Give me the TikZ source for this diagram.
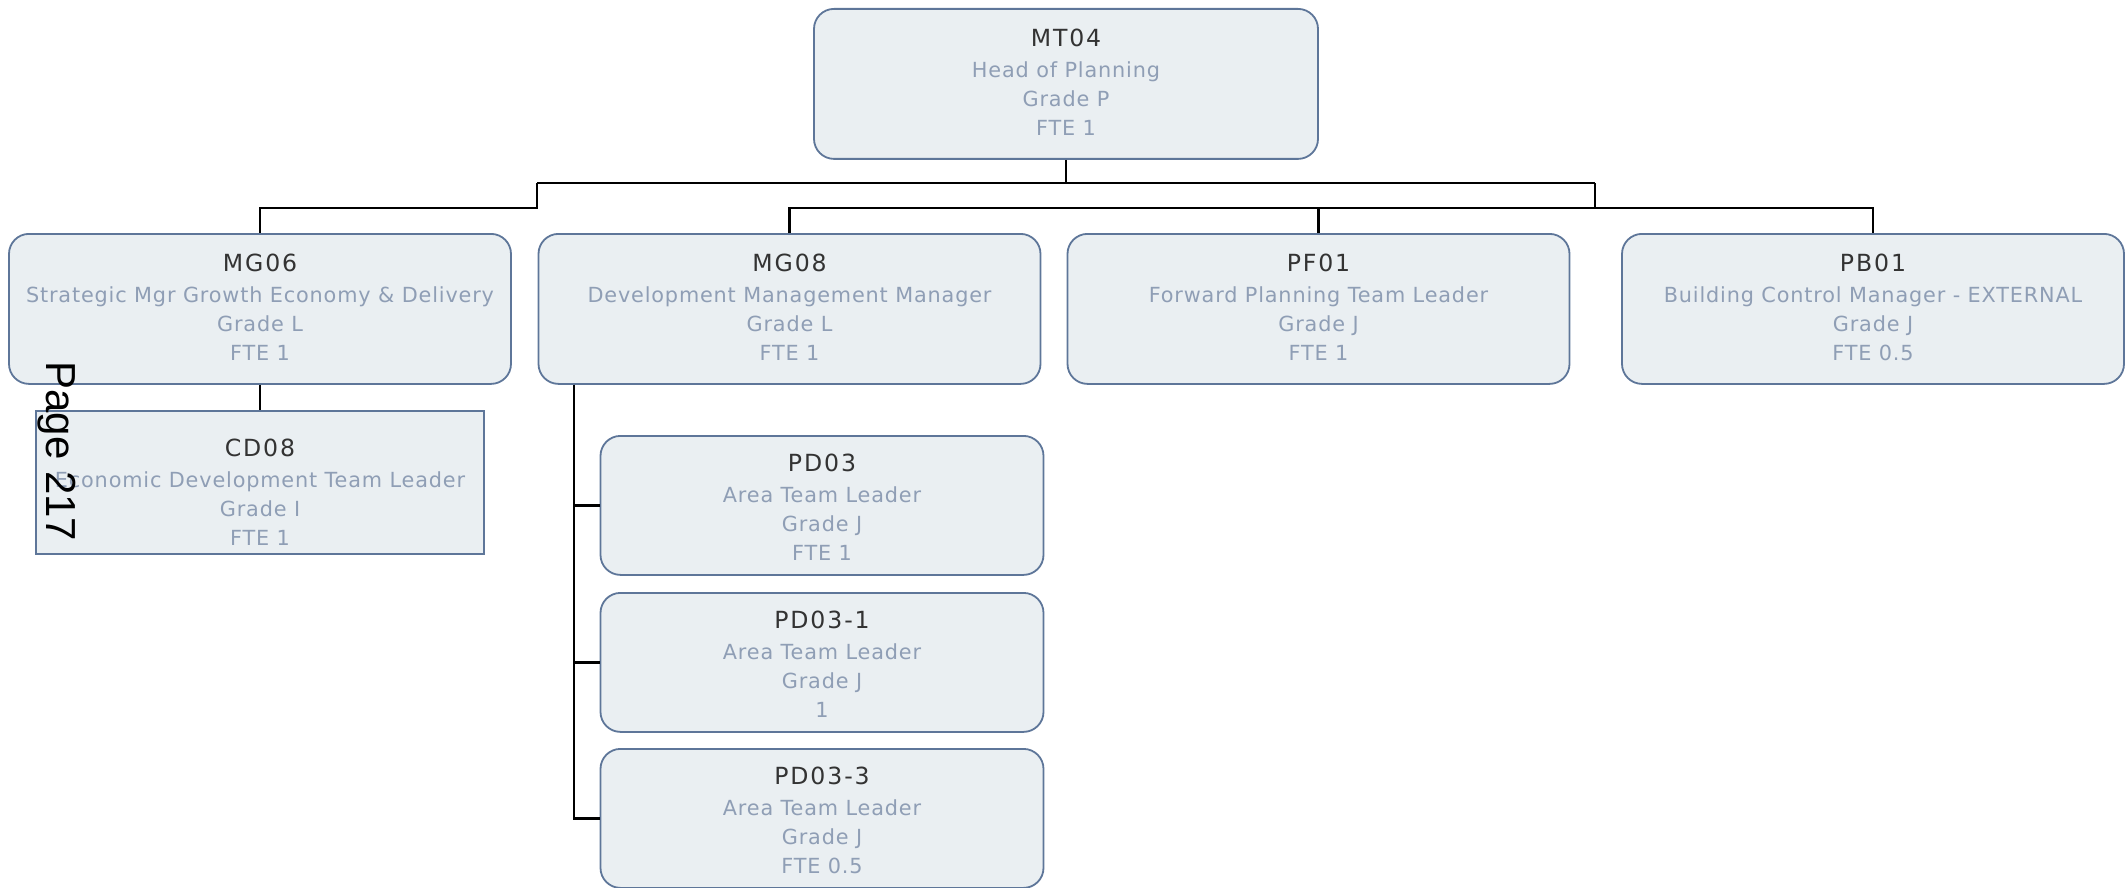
\documentclass[tikz,border=0pt]{standalone}
\usepackage{fontspec}
\setmainfont{DejaVu Sans}
\newfontfamily\titlefont[LetterSpace=8]{DejaVu Sans}
\newfontfamily\rolefont[LetterSpace=4]{DejaVu Sans}
\newfontfamily\pagefont{Liberation Sans}

\definecolor{boxfill}{RGB}{234,239,242}
\definecolor{boxline}{RGB}{94,118,153}
\definecolor{titlegrey}{RGB}{51,51,51}
\definecolor{rolegrey}{RGB}{143,158,181}

\tikzset{
  staffbase/.style={draw=boxline, fill=boxfill, line width=0.9pt, anchor=north, inner sep=0pt},
  headbox/.style={staffbase, rounded corners=10pt, minimum width=252pt, minimum height=75pt},
  mgrbox/.style={staffbase, rounded corners=10pt, minimum width=251pt, minimum height=75pt},
  teambox/.style={staffbase, rounded corners=10pt, minimum width=221.5pt, minimum height=69.5pt},
  plainbox/.style={staffbase, minimum width=224pt, minimum height=71.5pt},
  titletext/.style={anchor=base, inner sep=0pt, text=titlegrey, font=\titlefont\fontsize{11.8}{14}\selectfont},
  roletext/.style={anchor=base, inner sep=0pt, text=rolegrey, font=\rolefont\fontsize{10.4}{13}\selectfont},
  conn/.style={draw=black, line width=1.1pt}
}

% #1 box style, #2 name, #3 centre x, #4 top y, #5 title baseline offset,
% #6 post code, #7 role, #8 grade, #9 FTE line
\newcommand\staffpost[9]{%
  \node[#1] (#2) at (#3,#4) {};
  \node[titletext] (#2-t) at (#3,#4+#5) {#6};
  \node[roletext] (#2-r) at (#3,#4+#5+31) {#7};
  \node[roletext] (#2-g) at (#3,#4+#5+60) {#8};
  \node[roletext] (#2-f) at (#3,#4+#5+89) {#9};
}

\begin{document}
\begin{tikzpicture}[x=0.5pt,y=-0.5pt]
\useasboundingbox (0,0) rectangle (2127,888);

% posts
\staffpost{headbox}{mt}{1066}{8}{38.5}{MT04}{Head of Planning}{Grade P}{FTE 1}
\staffpost{mgrbox}{mga}{260}{233}{38.5}{MG06}{Strategic Mgr Growth Economy \& Delivery}{Grade L}{FTE 1}
\staffpost{mgrbox}{mgb}{789.5}{233}{38.5}{MG08}{Development Management Manager}{Grade L}{FTE 1}
\staffpost{mgrbox}{pf}{1318.5}{233}{38.5}{PF01}{Forward Planning Team Leader}{Grade J}{FTE 1}
\staffpost{mgrbox}{pb}{1873}{233}{38.5}{PB01}{Building Control Manager - EXTERNAL}{Grade J}{FTE 0.5}
\staffpost{plainbox}{cd}{260}{410}{46}{CD08}{Economic Development Team Leader}{Grade I}{FTE 1}
\staffpost{teambox}{pda}{822}{435}{36.5}{PD03}{Area Team Leader}{Grade J}{FTE 1}
\staffpost{teambox}{pdb}{822}{592}{36.5}{PD03-1}{Area Team Leader}{Grade J}{1}
\staffpost{teambox}{pdc}{822}{748}{36.5}{PD03-3}{Area Team Leader}{Grade J}{FTE 0.5}

% connector rails
\coordinate (railL) at (537,183);
\coordinate (railR) at (1595,183);
\coordinate (lower) at (0,207.7);
\coordinate (trunk) at (574.3,0);

\draw[conn] (mt.south) -- (mt.south |- railL);
\draw[conn] (railL) -- (railR);
\draw[conn] (railL) -- (railL |- lower) -| (mga.north);
\draw[conn] (railR) -- (railR |- lower);
\draw[conn] (mgb.north) -- (mgb.north |- lower) -- (pb.north |- lower) -- (pb.north);
\draw[conn] (pf.north) -- (pf.north |- lower);
\draw[conn] (mga.south) -- (cd.north);
\draw[conn] (mgb.south -| trunk) |- (pdc.west);
\draw[conn] (mgb.south -| trunk) |- (pda.west);
\draw[conn] (mgb.south -| trunk) |- (pdb.west);

% page number stamp
\node[rotate=-90, anchor=base west, inner sep=0pt, text=black,
      font=\pagefont\fontsize{21}{25}\selectfont] (pagenum) at (47,361) {Page 217};
\end{tikzpicture}
\end{document}
